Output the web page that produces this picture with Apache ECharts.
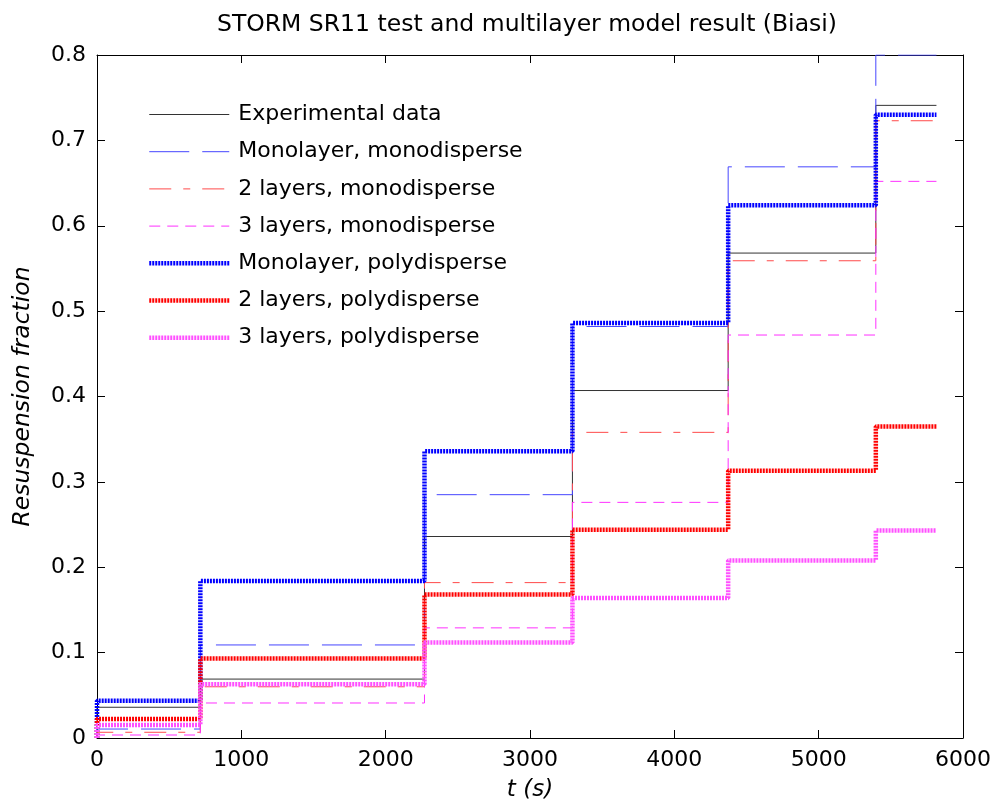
<!DOCTYPE html>
<html>
<head>
<meta charset="utf-8">
<script src="https://cdn.jsdelivr.net/npm/echarts@6/dist/echarts.min.js"></script>
<style>html,body{margin:0;padding:0;background:#fff;}#c{width:996px;height:808px;}</style>
</head>
<body>
<div id="c"></div>
<script>
// Step start times (s) and end time of the last step
const stepTimes = [0, 716, 2269, 3294, 4373, 5396];
const endTime = 5816;
const xTicks = [0, 1000, 2000, 3000, 4000, 5000, 6000];
const yTicks = [0, 0.1, 0.2, 0.3, 0.4, 0.5, 0.6, 0.7, 0.8];

const seriesNames = [
  'Experimental data',
  'Monolayer, monodisperse',
  '2 layers, monodisperse',
  '3 layers, monodisperse',
  'Monolayer, polydisperse',
  '2 layers, polydisperse',
  '3 layers, polydisperse'
];
const experimental = [0.036, 0.069, 0.236, 0.407, 0.568, 0.741];
const monoMono     = [0.0105, 0.109, 0.285, 0.482, 0.669, 0.800];
const twoMono      = [0.0067, 0.060, 0.182, 0.358, 0.559, 0.723];
const threeMono    = [0.0035, 0.041, 0.129, 0.276, 0.472, 0.652];
const monoPoly     = [0.0437, 0.184, 0.336, 0.486, 0.624, 0.730];
const twoPoly      = [0.0222, 0.093, 0.168, 0.244, 0.313, 0.365];
const threePoly    = [0.0152, 0.063, 0.112, 0.164, 0.208, 0.243];

const values = [experimental, monoMono, twoMono, threeMono, monoPoly, twoPoly, threePoly];
const styles = [
  {color: '#333333', width: 1, type: 'solid'},
  {color: '#4646ff', width: 1, type: [40, 13]},
  {color: '#ff4a4a', width: 1, type: [22, 12, 7, 12]},
  {color: '#ff30ff', width: 1, type: [11, 7]},
  {color: '#0000ff', width: 4.5, type: [2, 1]},
  {color: '#ff0000', width: 4.5, type: [2, 1]},
  {color: '#ff50ff', width: 4.5, type: [2, 1]}
];

function stepData(v) {
  const d = [[stepTimes[0], 0]];
  stepTimes.forEach((t, i) => d.push([t, v[i]]));
  d.push([endTime, v[v.length - 1]]);
  return d;
}

const FONT = 'DejaVu Sans';
const chart = echarts.init(document.getElementById('c'), null, {renderer: 'canvas'});
const axisLineStyle = {color: '#000', width: 1};
chart.setOption({
  animation: false,
  backgroundColor: '#fff',
  title: {
    text: 'STORM SR11 test and multilayer model result (Biasi)',
    left: 217, top: 13, padding: 0,
    textStyle: {fontFamily: FONT, fontSize: 23.5, fontWeight: 'normal', color: '#000'}
  },
  legend: {
    orient: 'vertical', left: 147, top: 102.5, padding: 0,
    itemWidth: 80, itemHeight: 14, itemGap: 13.2,
    itemStyle: {opacity: 0},
    data: seriesNames.map((n, i) => ({name: n, lineStyle: {width: styles[i].width}})),
    textStyle: {fontFamily: FONT, fontSize: 22, color: '#000', lineHeight: 24, padding: [0, 0, 0, 4]}
  },
  grid: {left: 97, right: 33, top: 55, bottom: 70, containLabel: false},
  xAxis: [{
    type: 'value', min: xTicks[0], max: xTicks[xTicks.length - 1], interval: 1000,
    name: 't (s)', nameLocation: 'middle', nameGap: 41,
    nameTextStyle: {fontFamily: FONT, fontSize: 23, fontStyle: 'italic', color: '#000'},
    axisLine: {show: true, onZero: false, lineStyle: axisLineStyle},
    axisTick: {show: true, inside: true, length: 8, lineStyle: axisLineStyle},
    axisLabel: {fontFamily: FONT, fontSize: 22, color: '#000', margin: 11,
      formatter: v => String(v)},
    splitLine: {show: false}
  }, {
    type: 'value', position: 'top', min: xTicks[0], max: xTicks[xTicks.length - 1], interval: 1000,
    axisLine: {show: true, onZero: false, lineStyle: axisLineStyle},
    axisTick: {show: true, inside: true, length: 8, lineStyle: axisLineStyle},
    axisLabel: {show: false}, splitLine: {show: false}
  }],
  yAxis: [{
    type: 'value', min: yTicks[0], max: yTicks[yTicks.length - 1], interval: 0.1,
    name: 'Resuspension fraction', nameLocation: 'middle', nameGap: 63,
    nameTextStyle: {fontFamily: FONT, fontSize: 23.5, fontStyle: 'italic', color: '#000'},
    axisLine: {show: true, onZero: false, lineStyle: axisLineStyle},
    axisTick: {show: true, inside: true, length: 8, lineStyle: axisLineStyle},
    axisLabel: {fontFamily: FONT, fontSize: 22, color: '#000', margin: 11,
      formatter: v => v === 0 ? '0' : v.toFixed(1)},
    splitLine: {show: false}
  }, {
    type: 'value', position: 'right', min: yTicks[0], max: yTicks[yTicks.length - 1], interval: 0.1,
    axisLine: {show: true, onZero: false, lineStyle: axisLineStyle},
    axisTick: {show: true, inside: true, length: 8, lineStyle: axisLineStyle},
    axisLabel: {show: false}, splitLine: {show: false}
  }],
  series: seriesNames.map((name, i) => ({
    name: name,
    type: 'line',
    step: 'end',
    xAxisIndex: 0, yAxisIndex: 0,
    symbol: 'none',
    showSymbol: false,
    clip: true,
    color: styles[i].color,
    lineStyle: {color: styles[i].color, width: styles[i].width, type: styles[i].type},
    data: stepData(values[i]),
    z: 2 + i
  }))
});
</script>
</body>
</html>
